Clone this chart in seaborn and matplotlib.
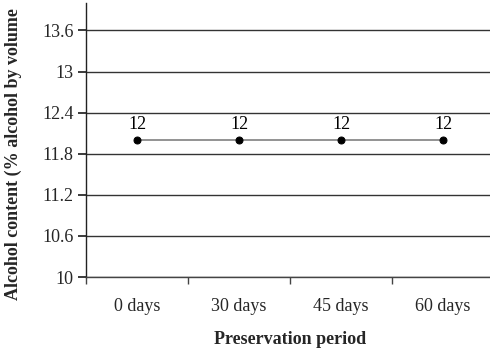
import matplotlib
matplotlib.use("Agg")
import matplotlib.pyplot as plt
import seaborn as sns
import pandas as pd
import numpy as np

periods = ["0 days", "30 days", "45 days", "60 days"]
alcohol = [12, 12, 12, 12]
yticks = [10, 10.6, 11.2, 11.8, 12.4, 13, 13.6]
ytick_labels = ["10", "10.6", "11.2", "11.8", "12.4", "13", "13.6"]

sns.set_theme(style="white")
plt.rcParams['font.family'] = ['Liberation Serif', 'DejaVu Serif']

df = pd.DataFrame({"period": periods, "alcohol": alcohol, "x": np.arange(len(periods))})

fig = plt.figure(figsize=(4.9, 3.55), dpi=100)
ax = fig.add_axes([86/490, 78/355, 408/490, 274/355])

sns.lineplot(data=df, x="x", y="alcohol", ax=ax, color="#808080", linewidth=1.2,
             marker="o", markersize=5, markerfacecolor="black", markeredgecolor="black")

for xi, v in zip(df["x"], df["alcohol"]):
    ax.annotate(f"{v:g}", (xi, v), xytext=(0, 5), textcoords="offset points",
                ha="center", va="bottom", fontsize=13, color="black")

ax.set_xlim(-0.5, len(periods) - 0.5)
ax.set_ylim(10, 14)
ax.set_yticks(yticks)
ax.set_yticklabels(ytick_labels, fontsize=13)
ax.set_xticks(np.arange(len(periods)))
ax.set_xticklabels(periods, fontsize=13)
ax.set_xticks(np.arange(len(periods) + 1) - 0.5, minor=True)
ax.tick_params(axis="x", which="major", length=0, pad=15)
ax.tick_params(axis="x", which="minor", length=5, direction="out", color="#444444", bottom=True)
ax.tick_params(axis="y", length=6, direction="out", color="#222222", left=True, pad=3)

ax.yaxis.grid(True, color="#333333", linewidth=1)
ax.xaxis.grid(False)
ax.set_axisbelow(True)
for s in ["top", "right"]:
    ax.spines[s].set_visible(False)
ax.spines["left"].set_color("#222222")
ax.spines["bottom"].set_color("#444444")
ax.spines["left"].set_linewidth(1)
ax.spines["bottom"].set_linewidth(1)

ax.set_xlabel("Preservation period", fontsize=13, fontweight="bold", labelpad=12)
ax.set_ylabel("Alcohol content (% alcohol by volume", fontsize=13, fontweight="bold")
ax.yaxis.set_label_coords(-0.157, 0.45)

fig.savefig("out.png", dpi=100)
